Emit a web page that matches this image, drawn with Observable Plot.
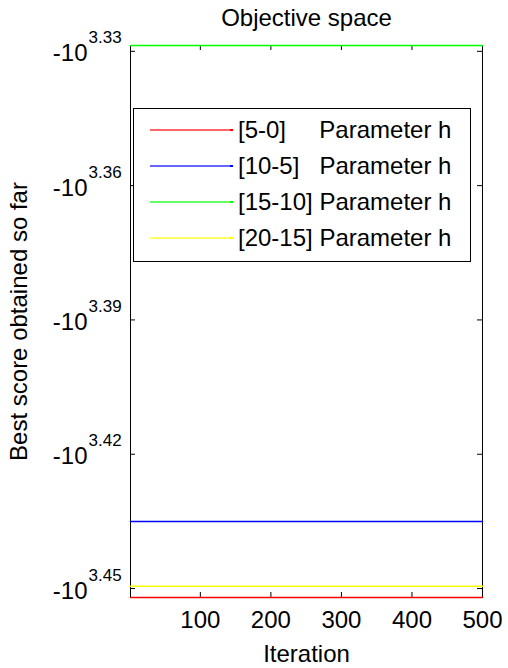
<!DOCTYPE html>
<html><head><meta charset="utf-8">
<script src="https://cdn.jsdelivr.net/npm/d3@7"></script>
<script src="https://cdn.jsdelivr.net/npm/@observablehq/plot@0.6"></script>
<style>
body{margin:0;background:#fff;}
#wrap{position:relative;width:508px;height:668px;font-family:"Liberation Sans",Arial,Helvetica,sans-serif;}
#wrap svg{position:absolute;left:0;top:0;}
#legend{position:absolute;left:133px;top:108px;width:338px;height:154px;box-sizing:border-box;border:1px solid #000;background:#fff;}
.row{position:absolute;left:0;width:100%;height:36px;}
.sw{position:absolute;left:16px;width:82px;top:17px;height:2px;}
.end{position:absolute;left:96px;width:3px;top:17px;height:2px;}
.lb{position:absolute;left:104px;top:0;line-height:36px;font-size:24px;white-space:pre;color:#000;}
</style></head>
<body><div id="wrap"></div>
<script>
// Data
const iterations = [1, 500];
const seriesNames = ["[5-0]     Parameter h", "[10-5]   Parameter h", "[15-10] Parameter h", "[20-15] Parameter h"];
const seriesColors = ["#ff0000", "#0000ff", "#00ff00", "#ffff00"];
// best score obtained so far = -10^exponent; exponent at the iteration endpoints
const exp5_0 = [3.452, 3.452];
const exp10_5 = [3.435, 3.435];
const exp15_10 = [3.3287, 3.3287];
const exp20_15 = [3.4495, 3.4495];
const xTicks = [100, 200, 300, 400, 500];
const yTicks = [3.33, 3.36, 3.39, 3.42, 3.45];
const yTickLabels = ["3.33", "3.36", "3.39", "3.42", "3.45"];
const xDomain = [1, 500];
const yDomain = [3.3287, 3.452];

const seriesValues = [exp5_0, exp10_5, exp15_10, exp20_15];
const W = 508, H = 668, mL = 130, mR = 26, mT = 45, mB = 71;
const fw = W - mL - mR, fh = H - mT - mB, tl = 5;

const lineMarks = seriesValues.map((vals, s) =>
  Plot.line(iterations.map((it, i) => ({it, v: vals[i]})), {x: "it", y: "v", stroke: seriesColors[s], strokeWidth: 1.5})
);

const chart = Plot.plot({
  width: W, height: H,
  marginLeft: mL, marginRight: mR, marginTop: mT, marginBottom: mB,
  style: {fontFamily: '"Liberation Sans", Arial, Helvetica, sans-serif', background: "transparent", color: "#000"},
  x: {domain: xDomain, axis: null},
  y: {domain: yDomain, reverse: true, axis: null},
  marks: [
    Plot.frame({stroke: "#000", strokeWidth: 1}),
    Plot.tickX(xTicks, {x: d => d, insetTop: fh - tl, stroke: "#000"}),
    Plot.tickX(xTicks, {x: d => d, insetBottom: fh - tl, stroke: "#000"}),
    Plot.tickY(yTicks, {y: d => d, insetRight: fw - tl, stroke: "#000"}),
    Plot.tickY(yTicks, {y: d => d, insetLeft: fw - tl, stroke: "#000"}),
    ...lineMarks,
    Plot.text(xTicks, {x: d => d, text: d => String(d), frameAnchor: "bottom", textAnchor: "middle", dy: 30, lineAnchor: "bottom", fontSize: 24, fill: "#000"}),
    Plot.text(yTicks, {y: d => d, text: () => "-10", frameAnchor: "left", textAnchor: "end", dx: -43, dy: 10, lineAnchor: "bottom", fontSize: 24, fill: "#000"}),
    Plot.text(yTicks, {y: d => d, text: (d, i) => yTickLabels[i], frameAnchor: "left", textAnchor: "start", dx: -42, dy: -8, lineAnchor: "bottom", fontSize: 17, fill: "#000"}),
    Plot.text(["Objective space"], {text: d => d, frameAnchor: "top", textAnchor: "middle", dy: -20, lineAnchor: "bottom", fontSize: 24, fill: "#000"}),
    Plot.text(["Iteration"], {text: d => d, frameAnchor: "bottom", textAnchor: "middle", dy: 64, lineAnchor: "bottom", fontSize: 24, fill: "#000"}),
    Plot.text(["Best score obtained so far"], {text: d => d, frameAnchor: "left", textAnchor: "middle", lineAnchor: "middle", rotate: -90, dx: -111, fontSize: 24, fill: "#000"})
  ]
});

const wrap = document.getElementById("wrap");
wrap.appendChild(chart);

const legend = document.createElement("div");
legend.id = "legend";
seriesNames.forEach((name, i) => {
  const row = document.createElement("div");
  row.className = "row";
  row.style.top = (3 + i * 36) + "px";
  const sw = document.createElement("div");
  sw.className = "sw";
  sw.style.background = seriesColors[i];
  sw.style.opacity = 0.6;
  const end = document.createElement("div");
  end.className = "end";
  end.style.background = seriesColors[i];
  const lb = document.createElement("div");
  lb.className = "lb";
  lb.textContent = name;
  row.appendChild(sw);
  row.appendChild(end);
  row.appendChild(lb);
  legend.appendChild(row);
});
wrap.appendChild(legend);
</script>
</body></html>
